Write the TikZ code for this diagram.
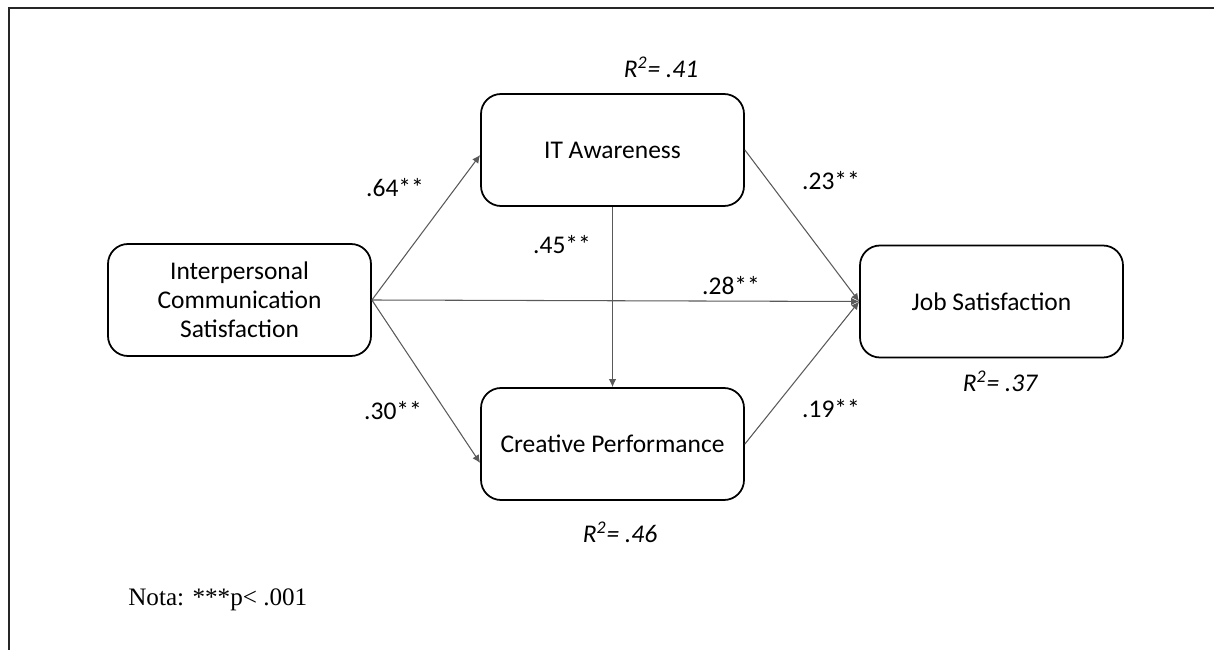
\documentclass[tikz,border=0pt]{standalone}
\usepackage{fontspec}
\setmainfont{Carlito}
\newfontfamily\notafont{Liberation Serif}
\usetikzlibrary{arrows.meta}
\newcommand{\boxw}{5.26cm}
\newcommand{\boxh}{2.24cm}
\newcommand{\linecolor}{black!65}
\tikzset{
  varbox/.style={draw, line width=1pt, rounded corners=0.4cm, minimum width=\boxw, minimum height=\boxh, align=center, font=\fontsize{14.5}{16.5}\selectfont},
  path/.style={draw=\linecolor, line width=0.6pt, -{Latex[length=1.6mm,width=1.5mm]}},
  coef/.style={font=\fontsize{14.5}{16.5}\selectfont},
  rsq/.style={font=\fontsize{14.5}{16.5}\selectfont\itshape}
}

\begin{document}
\begin{tikzpicture}
\useasboundingbox (0,0) rectangle (24.28,-13);
%frame
\draw[black!85, line width=1.1pt] (0.18,-13) -- (0.18,-0.16) -- (24.28,-0.16);
%variables
\node[varbox] (ics) at (4.79, -6.0) {Interpersonal\\Communication\\Satisfaction};
\node[varbox] (it) at (12.25, -3.0) {IT Awareness};
\node[varbox] (cp) at (12.25, -8.88) {Creative Performance};
\node[varbox] (js) at (19.83, -6.03) {Job Satisfaction};
%paths
\draw[path] (ics.east) -- ([yshift=-0.1cm]it.west);
\draw[path] (ics.east) -- ([yshift=-0.38cm]cp.west);
\draw[path] (ics.east) -- (js.west);
\draw[path] (it.south) -- (cp.north);
\draw[path] (it.east) -- (js.west);
\draw[path] (cp.east) -- (js.west);
%coefficients
\node[coef] (c64) at (7.9, -3.76) {.64**};
\node[coef] (c45) at (11.24, -4.9) {.45**};
\node[coef] (c23) at (16.62, -3.62) {.23**};
\node[coef] (c28) at (14.62, -5.72) {.28**};
\node[coef] (c30) at (7.86, -8.22) {.30**};
\node[coef] (c19) at (16.62, -8.18) {.19**};
%r squared
\node[rsq] (r41) at (13.22, -1.34) {R\textsuperscript{2}= .41};
\node[rsq] (r37) at (20.0, -7.62) {R\textsuperscript{2}= .37};
\node[rsq] (r46) at (12.4, -10.64) {R\textsuperscript{2}= .46};
%note
\node[anchor=west, inner sep=0pt, font=\notafont\fontsize{14.3}{16}\selectfont] (nota) at (2.56, -12.0) {Nota: ***p< .001};
\end{tikzpicture}
\end{document}
